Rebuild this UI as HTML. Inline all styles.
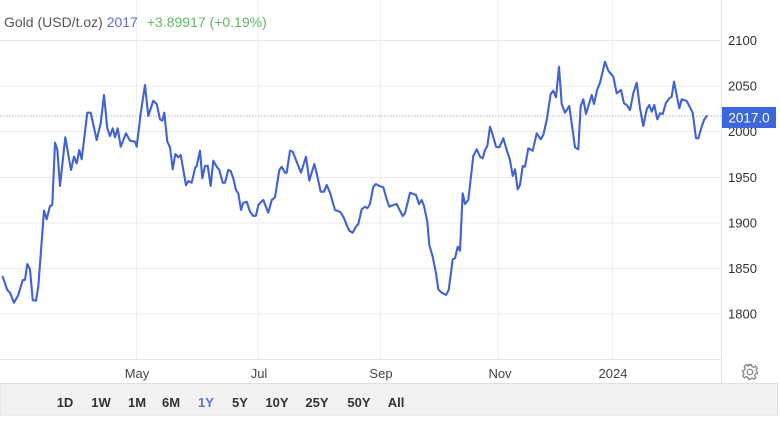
<!DOCTYPE html>
<html>
<head>
<meta charset="utf-8">
<style>
  html,body{margin:0;padding:0;background:#fff;}
  body{width:780px;height:423px;overflow:hidden;position:relative;font-family:"Liberation Sans",Arial,sans-serif;}
  svg{position:absolute;left:0;top:0;}
</style>
</head>
<body>
<svg width="780" height="423" viewBox="0 0 780 423" xmlns="http://www.w3.org/2000/svg" font-family="Liberation Sans, Arial, sans-serif">
  <!-- bottom bar -->
  <rect x="0" y="383.5" width="777.5" height="31.5" fill="#f2f2f2" stroke="#e0e0e0" stroke-width="1"/>
  <!-- vertical gridlines -->
  <g stroke="#eef0f3" stroke-width="1">
    <line x1="136.5" y1="0" x2="136.5" y2="359"/>
    <line x1="258.5" y1="0" x2="258.5" y2="359"/>
    <line x1="380.5" y1="0" x2="380.5" y2="359"/>
    <line x1="498.5" y1="0" x2="498.5" y2="359"/>
    <line x1="612.5" y1="0" x2="612.5" y2="359"/>
  </g>
  <!-- horizontal gridlines -->
  <g stroke="#e8e8e8" stroke-width="1">
    <line x1="0" y1="40.5" x2="722" y2="40.5"/>
    <line x1="0" y1="86" x2="722" y2="86"/>
    <line x1="0" y1="131.5" x2="722" y2="131.5"/>
    <line x1="0" y1="177.5" x2="722" y2="177.5"/>
    <line x1="0" y1="223" x2="722" y2="223"/>
    <line x1="0" y1="268.5" x2="722" y2="268.5"/>
    <line x1="0" y1="314" x2="722" y2="314"/>
  </g>
  <!-- axes lines -->
  <line x1="0" y1="359.5" x2="722" y2="359.5" stroke="#e3e3e3" stroke-width="1"/>
  <line x1="721.5" y1="0" x2="721.5" y2="383" stroke="#e3e3e3" stroke-width="1"/>
  <!-- dotted current price line -->
  <line x1="0" y1="116" x2="722" y2="116" stroke="#a9b4c6" stroke-width="1" stroke-dasharray="1.5,1.5"/>

  <!-- price series -->
  <polyline fill="none" stroke="#3f63d1" stroke-width="2.1" stroke-linejoin="round" stroke-linecap="round" points="
  2.7,276.7 7.3,290 10,292.7 14,302.7 18.3,295 22.7,280 25,280 27.3,264 30,269.3 32.7,300 36,300.7 38.3,286.7
  44,210.7 46.7,219.3 50,206 52.3,205 55,142.7 57.3,149.3 60,186 65.3,137.3 71,170 74,156.7 76.7,163.3 79.3,150
  81.7,159.3 87.3,112.7 90.7,112.7 96.7,140 100.7,123.3 104,95 107.3,128.3 110,136 112.7,128.3 115,137.3 117.7,128.3
  120.7,146.7 126,133.3 130,140.7 135,141.7 136.7,146.7 140.7,113.3 145,85 148.3,116 153.3,100.7 156.7,104 160,119.3
  162.3,120.7 164.3,112.7 167.3,141.7 170,147.3 172.7,169.3 175.3,154 178.3,157.3 180.7,155 186,185.3 188.3,181
  191.7,182.7 195,168.3 196.7,166 200,150.7 202.3,178.3 205,166 207.7,165.7 210.7,186 213.3,160.7 216.7,166.7
  219.3,170 222.7,182.7 225,182.7 228.3,170 230.7,171 233.3,178.3 236,190 238.3,193.3 241,210 243.3,202.7 246.7,201.7
  250,211.7 253.3,216 256,215.7 258.3,205 263.3,200 268.3,212.7 271.7,200 275,197.3 279.3,170 281.7,166.7 285,172.7
  286.7,172.7 290,150.7 292.7,151.7 296,160 301,172.7 306,156.7 309.3,180.7 314.3,164 316.7,173.3 320.7,191.7
  324,191.7 326.7,185 330,192.7 335,210 340,211.7 343.3,216.7 346.7,225 349.3,230.7 352.7,232.7 356,226.7 358.3,224
  361.7,209.3 365,206.7 367.3,208.3 370,204 373.3,186.7 376,184 379.3,186 383.3,187.3 386.7,199.3 389.3,206.7
  393.3,205 396.7,204 399.3,209.3 402.7,216 405,213.3 410,192.7 413.3,194 416,195 419,204 421.7,200 424,206
  427.3,221.7 429.3,245 432.7,256.7 436,273.3 438.3,289.3 441.7,292.7 446,295 448.7,290 452.7,259.3 455,258.3
  457.7,246.7 460,250.7 462.7,193.3 465,204 468.3,200 473.3,156 476.7,149.3 480,156.7 482.7,158.3 485,150 487.3,146
  490,126.7 492.7,135 496,146.7 499.3,147.3 503.3,138.3 506.7,150 510,160 512.7,176 515,169.3 517.7,189.3 520,185
  522.7,166 525,166.7 528.3,148.3 532.7,150.7 536.7,133.3 540.7,139.3 543.3,135 546.7,120 550.7,94 553.3,90.7
  556,97.3 559,66.7 561.7,104 565,112.7 569.3,106 575,147.3 578.3,149.3 580.7,106 583.3,99.3 586,114 591.7,95
  594,104 597.3,89.3 600,82.7 605,61.7 608.3,70.7 613.3,76.7 616.7,93.3 621,90 624,103.3 626.7,105 630,110
  633.3,93.3 636.7,82.7 640,108.3 643.3,126 646.7,109.3 649.3,105 651.7,111.7 654.3,105 657.3,119.3 660,113.3
  662.7,114 666,102.7 669.3,98.3 671.7,96.7 674,81.7 676.7,95 679.3,108.3 681.7,99.3 686.7,101 689.3,106 692.7,112.7
  696,138.3 698.3,138.3 701.7,126.7 704,120 706.7,116"/>

  <!-- title -->
  <text x="4" y="27" font-size="14" fill="#555">Gold (USD/t.oz) <tspan fill="#5b6fc4">2017</tspan><tspan dx="9" fill="#62b862">+3.89917 (+0.19%)</tspan></text>

  <!-- y axis labels -->
  <g font-size="13" fill="#333">
    <text x="728" y="45">2100</text>
    <text x="728" y="90.5">2050</text>
    <text x="728" y="136">2000</text>
    <text x="728" y="182">1950</text>
    <text x="728" y="227.5">1900</text>
    <text x="728" y="273">1850</text>
    <text x="728" y="318.5">1800</text>
  </g>
  <!-- current price label -->
  <rect x="722" y="107" width="54" height="21" fill="#3c66dc"/>
  <text x="749" y="122.5" font-size="13.5" fill="#fff" text-anchor="middle">2017.0</text>

  <!-- x axis labels -->
  <g font-size="13" fill="#444" text-anchor="middle">
    <text x="137" y="378">May</text>
    <text x="259" y="378">Jul</text>
    <text x="381" y="378">Sep</text>
    <text x="500" y="378">Nov</text>
    <text x="613" y="378">2024</text>
  </g>

  <!-- gear icon -->
  <g transform="translate(750,372) scale(1.2)" fill="none" stroke="#888" stroke-width="1.1">
    <circle r="2.3"/>
    <path d="M-1.2,-6.2 L1.2,-6.2 L1.6,-4.6 L3.1,-3.9 L4.5,-4.9 L6,-3.3 L5,-1.9 L5.6,-0.4 L6.2,0 L6.2,1.2 L4.6,1.6 L3.9,3.1 L4.9,4.5 L3.3,6 L1.9,5 L0.4,5.6 L0,6.2 L-1.2,6.2 L-1.6,4.6 L-3.1,3.9 L-4.5,4.9 L-6,3.3 L-5,1.9 L-5.6,0.4 L-6.2,0 L-6.2,-1.2 L-4.6,-1.6 L-3.9,-3.1 L-4.9,-4.5 L-3.3,-6 L-1.9,-5 L-0.4,-5.6 Z"/>
  </g>

  <!-- range buttons -->
  <g font-size="13" font-weight="bold" fill="#333" text-anchor="middle">
    <text x="65" y="407">1D</text>
    <text x="101" y="407">1W</text>
    <text x="137" y="407">1M</text>
    <text x="171" y="407">6M</text>
    <text x="206" y="407" fill="#5a72d0">1Y</text>
    <text x="240" y="407">5Y</text>
    <text x="277" y="407">10Y</text>
    <text x="317" y="407">25Y</text>
    <text x="359" y="407">50Y</text>
    <text x="396" y="407">All</text>
  </g>
</svg>
</body>
</html>
